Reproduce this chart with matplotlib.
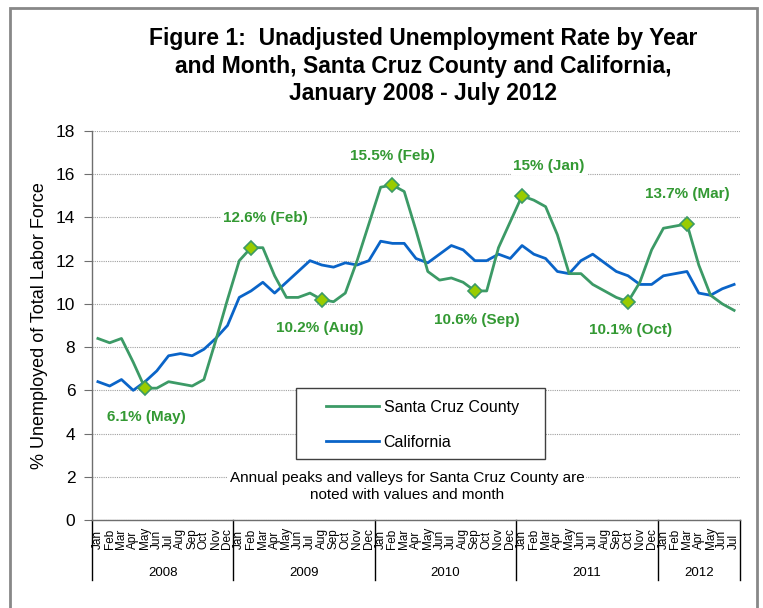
import matplotlib.pyplot as plt
from matplotlib.lines import Line2D
from matplotlib.patches import Rectangle
import matplotlib.transforms as mtransforms

plt.rcParams['font.family'] = ['Liberation Sans', 'DejaVu Sans']

# Monthly unadjusted unemployment rates, Jan 2008 - Jul 2012
months = ['Jan', 'Feb', 'Mar', 'Apr', 'May', 'Jun',
          'Jul', 'Aug', 'Sep', 'Oct', 'Nov', 'Dec']
years = ['2008', '2009', '2010', '2011', '2012']
months_per_year = [12, 12, 12, 12, 7]

santa_cruz = [8.4, 8.2, 8.4, 7.3, 6.1, 6.1, 6.4, 6.3, 6.2, 6.5, 8.3, 10.2,
              12.0, 12.6, 12.6, 11.3, 10.3, 10.3, 10.5, 10.2, 10.1, 10.5, 12.0, 13.7,
              15.4, 15.5, 15.2, 13.4, 11.5, 11.1, 11.2, 11.0, 10.6, 10.6, 12.6, 13.8,
              15.0, 14.8, 14.5, 13.2, 11.4, 11.4, 10.9, 10.6, 10.3, 10.1, 11.0, 12.5,
              13.5, 13.6, 13.7, 11.8, 10.4, 10.0, 9.7]
california = [6.4, 6.2, 6.5, 6.0, 6.4, 6.9, 7.6, 7.7, 7.6, 7.9, 8.4, 9.0,
              10.3, 10.6, 11.0, 10.5, 11.0, 11.5, 12.0, 11.8, 11.7, 11.9, 11.8, 12.0,
              12.9, 12.8, 12.8, 12.1, 11.9, 12.3, 12.7, 12.5, 12.0, 12.0, 12.3, 12.1,
              12.7, 12.3, 12.1, 11.5, 11.4, 12.0, 12.3, 11.9, 11.5, 11.3, 10.9, 10.9,
              11.3, 11.4, 11.5, 10.5, 10.4, 10.7, 10.9]

# annual peaks and valleys for Santa Cruz (index into the monthly series)
peak_idx = [4, 13, 19, 25, 32, 36, 45, 50]
# where each label sits relative to its marker (x in months, y in %)
label_offsets = [(0.1, -1.33), (1.2, 1.38), (-0.2, -1.31), (0.0, 1.35),
                 (0.2, -1.34), (2.3, 1.39), (0.2, -1.3), (0.0, 1.39)]

green = '#3C9A66'
blue = '#0A64C8'
label_green = '#339933'
axis_gray = '#6E6E6E'

month_labels = []
for n in months_per_year:
    month_labels += months[:n]
x = list(range(len(santa_cruz)))

fig = plt.figure(figsize=(7.63, 6.08), dpi=100)
ax = fig.add_axes([92 / 763, 1 - 520 / 608, 648 / 763, 389 / 608])

ax.plot(x, santa_cruz, color=green, lw=2, zorder=3, label='Santa Cruz County')
ax.plot(x, california, color=blue, lw=2, zorder=2, label='California')

# markers and value labels on the peaks/valleys
for i, (dx, dy) in zip(peak_idx, label_offsets):
    v = santa_cruz[i]
    ax.plot(i, v, marker='D', ms=7.5, mfc='#99CC00', mec=green, mew=1.2, zorder=4)
    ax.text(i + dx, v + dy, f'{v:g}% ({month_labels[i]})', ha='center', va='center',
            fontsize=11, fontweight='bold', color=label_green, zorder=5,
            bbox=dict(facecolor='white', edgecolor='none', pad=1.5))

ax.set_xlim(-0.5, len(x) - 0.5)
ax.set_ylim(0, 18)
ax.set_yticks(range(0, 19, 2))
ax.set_xticks([])
ax.yaxis.grid(True, linestyle=(0, (1, 1)), color='#A0A0A0', lw=0.8)
ax.set_axisbelow(True)
for s in ['top', 'right']:
    ax.spines[s].set_visible(False)
for s in ['left', 'bottom']:
    ax.spines[s].set_color(axis_gray)
    ax.spines[s].set_linewidth(1)
ax.tick_params(axis='y', direction='out', length=6, color=axis_gray, labelsize=12.5, pad=6)
ax.set_ylabel('% Unemployed of Total Labor Force', fontsize=13, labelpad=6)

# two-level category axis: months, then years with separators
trans = mtransforms.blended_transform_factory(ax.transData, ax.transAxes)
for xi, m in zip(x, month_labels):
    ax.text(xi, -0.0746, m, rotation=90, rotation_mode='anchor', ha='left', va='center',
            fontsize=8.5, transform=trans)
start = -0.5
for yr, n in zip(years, months_per_year):
    ax.text(start + n / 2, -0.136, yr, ha='center', va='center', fontsize=9.5, transform=trans)
    start += n
edges = [-0.5]
for n in months_per_year:
    edges.append(edges[-1] + n)
for e in edges:
    ax.add_line(Line2D([e, e], [0, -0.154], transform=trans, color='black', lw=1, clip_on=False))

# legend box with notes below it
ax.add_patch(Rectangle((296 / 763, 1 - 459 / 608), 249 / 763, 71 / 608, transform=fig.transFigure,
                       facecolor='white', edgecolor='#404040', lw=1, zorder=6))
leg = ax.legend(loc='upper left', bbox_to_anchor=(326 / 763, 1 - 400 / 608),
                bbox_transform=fig.transFigure, frameon=False, fontsize=11.5,
                handlelength=3.3, handletextpad=0.3, labelspacing=1.25, borderpad=0,
                borderaxespad=0)
leg.set_zorder(7)
ax.text(26.24, 1.55, 'Annual peaks and valleys for Santa Cruz County are\nnoted with values and month',
        ha='center', va='center', fontsize=11, linespacing=1.2, zorder=5,
        bbox=dict(facecolor='white', edgecolor='none', pad=1))

fig.text(423 / 763, 1 - 27 / 608,
         'Figure 1:  Unadjusted Unemployment Rate by Year\nand Month, Santa Cruz County and California,\nJanuary 2008 - July 2012',
         ha='center', va='top', fontsize=16.5, fontweight='bold', linespacing=1.25)

# outer frame around the figure
fig.patches.append(Rectangle((10 / 763, -0.05), 747 / 763, 1.05 - 8 / 608, transform=fig.transFigure,
                             fill=False, edgecolor='#888888', lw=2))

fig.savefig('out.png', dpi=100)
